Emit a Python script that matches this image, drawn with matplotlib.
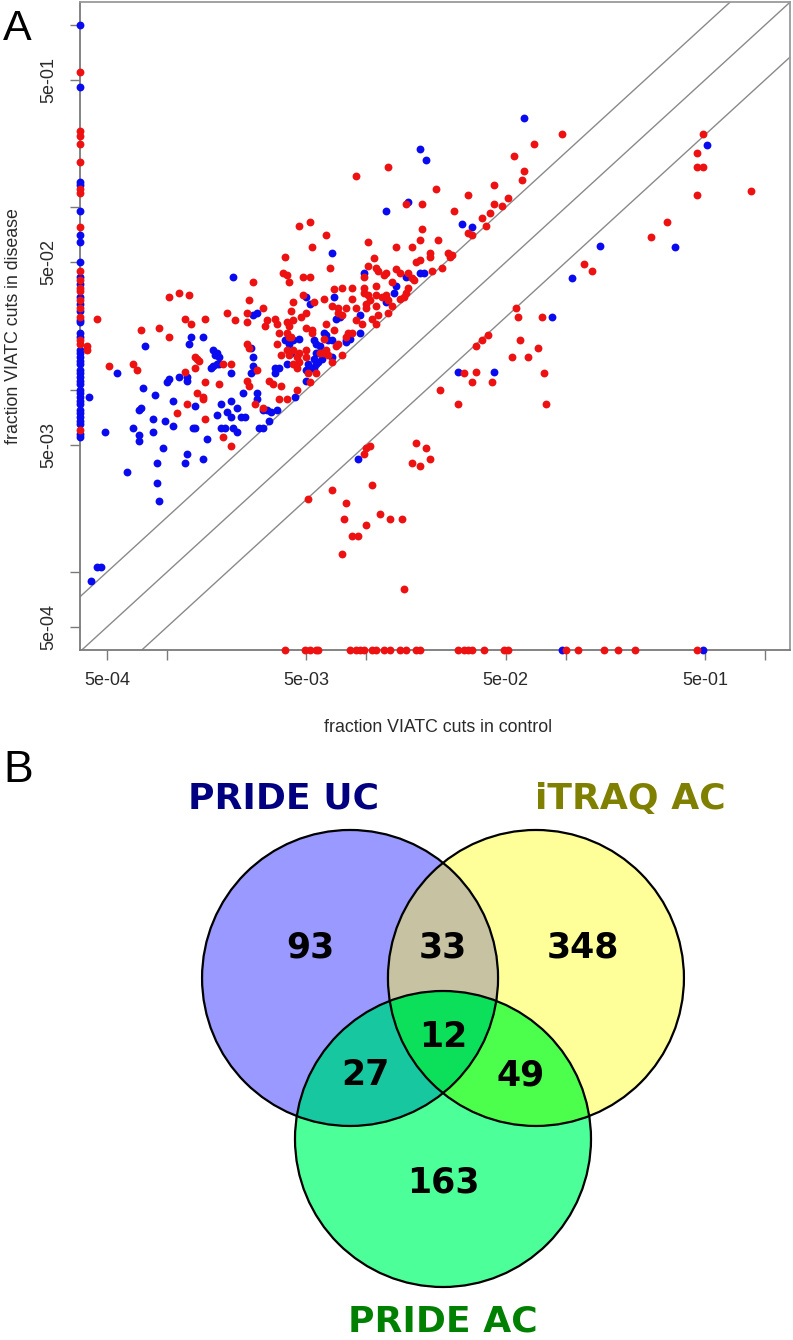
import numpy as np
import matplotlib
matplotlib.use("Agg")
import matplotlib.pyplot as plt
from matplotlib.patches import Circle, Polygon

# ------------------------------------------------------------------
# Panel A data: log10 of the fraction of VIATC cuts (control, disease)
# ------------------------------------------------------------------
blue_log_control = [
    -3.25, -3.39, -3.31, -3.38, -3.35, -3.33, -2.88, -2.89, -2.82, -3.11,
    -3.12, -3.06, -3.13, -3.14, -3.17, -3.14, -3.14, -3.07, -3.07, -3.01,
    -2.97, -2.97, -3.02, -3.05, -3.05, -3.04, -3.20, -2.91, -2.90, -2.82,
    -2.80, -2.87, -2.86, -2.86, -2.75, -2.73, -2.70, -2.68, -2.68, -2.73,
    -2.71, -2.67, -2.65, -2.65, -2.63, -2.61, -2.62, -3.00, -2.99, -2.94,
    -2.90, -2.90, -2.77, -2.76, -2.75, -2.74, -2.78, -2.77, -2.75, -2.74,
    -2.68, -2.57, -2.57, -2.56, -2.58, -2.55, -2.55, -2.52, -2.50, -2.48,
    -2.45, -2.49, -2.54, -2.52, -2.46, -2.36, -2.46, -2.44, -2.40, -2.39,
    -2.37, -2.40, -2.30, -2.29, -2.27, -2.25, -2.30, -2.26, -2.24, -2.22,
    -2.26, -2.25, -2.23, -2.10, -2.09, -2.20, -2.03, -2.34, -2.67, -2.57,
    -2.55, -2.41, -2.30, -2.28, -2.21, -2.17, -2.16, -2.15, -2.13, -2.08,
    -2.01, -2.03, -1.90, -1.90, -1.85, -1.80, -1.73, -1.71, -1.86, -1.79,
    -1.52, -1.47, -1.21, -1.73, -1.70, -2.04, -1.54, -1.36, -1.07, -0.97,
    -0.83, -0.45, -0.29, -2.38, -2.24, -2.17, -2.10, -2.29, -2.26, -2.25,
    -2.19, -2.17, -2.58]
blue_log_disease = [
    -1.91, -2.04, -2.23, -3.05, -2.97, -2.97, -1.71, -1.75, -1.71, -1.76,
    -1.99, -2.03, -2.10, -2.11, -2.21, -2.25, -2.28, -2.16, -2.23, -2.17,
    -2.20, -2.06, -2.32, -2.40, -2.51, -2.61, -2.45, -2.40, -2.35, -2.38,
    -2.27, -2.21, -2.21, -2.09, -2.14, -2.08, -2.12, -2.15, -2.06, -2.21,
    -2.21, -2.21, -2.23, -2.10, -2.15, -2.15, -2.02, -1.96, -1.94, -1.93,
    -1.93, -1.95, -1.78, -1.81, -1.80, -1.82, -1.88, -1.87, -1.86, -1.86,
    -1.91, -1.82, -1.87, -1.89, -1.91, -2.02, -2.05, -2.11, -2.11, -2.12,
    -2.11, -2.17, -2.21, -2.21, -1.91, -2.04, -1.88, -1.88, -1.86, -1.75,
    -1.73, -1.72, -1.89, -1.90, -1.88, -1.86, -1.95, -1.83, -1.85, -1.83,
    -1.73, -1.75, -1.76, -1.73, -1.72, -1.70, -1.69, -1.72, -1.38, -1.59,
    -1.58, -1.73, -1.49, -1.53, -1.69, -1.25, -1.49, -1.61, -1.60, -1.72,
    -1.36, -1.59, -1.02, -1.52, -1.43, -1.38, -1.36, -1.36, -1.47, -0.97,
    -1.09, -1.11, -0.51, -0.68, -0.74, -2.38, -1.90, -1.90, -1.60, -1.39,
    -1.21, -1.22, -0.66, -1.80, -1.80, -1.73, -1.74, -1.86, -1.88, -1.80,
    -1.73, -1.82, -1.77]

red_log_control = [
    -3.35, -3.29, -3.40, -3.40, -3.13, -2.99, -3.17, -3.15, -2.90, -2.95,
    -2.81, -2.85, -2.82, -2.82, -2.91, -2.86, -2.85, -2.84, -2.86, -2.72,
    -2.68, -2.81, -2.74, -2.60, -2.59, -2.55, -2.60, -2.59, -2.56, -2.72,
    -2.68, -2.49, -2.47, -2.52, -2.44, -2.40, -2.35, -2.43, -2.37, -2.35,
    -2.39, -2.37, -2.45, -2.43, -2.34, -2.30, -2.30, -2.28, -2.25, -2.23,
    -2.20, -2.19, -2.21, -2.17, -2.12, -2.14, -2.07, -2.27, -2.34, -2.29,
    -2.21, -2.15, -2.10, -2.35, -2.40, -2.39,
    -3.04, -2.99, -2.94, -2.89, -2.91, -2.88, -2.81, -2.70, -2.66, -2.60,
    -2.57, -2.60, -2.52, -2.50, -2.51, -2.45, -2.46, -2.41, -2.42, -2.40,
    -2.37, -2.38, -2.40, -2.39, -2.37, -2.44, -2.40, -2.38, -2.34, -2.28,
    -2.27, -2.32, -2.28, -2.32, -2.26, -2.33, -2.30, -2.27, -2.20, -2.18,
    -2.17, -2.14, -2.12, -2.07, -2.09, -2.05, -1.99, -1.99, -1.95, -2.01,
    -1.99, -1.95, -2.00, -1.95, -1.97, -1.95, -1.90, -1.85, -1.89, -1.90,
    -2.59, -2.39, -2.30, -2.21, -2.16, -2.12, -2.07, -2.20, -2.16, -2.10,
    -2.05, -2.00, -2.01, -1.95, -2.01, -1.96, -1.85, -1.83, -1.79, -1.77,
    -1.73, -1.72, -1.73, -1.68, -1.68, -1.64, -1.62, -1.59, -1.57, -1.58,
    -1.76, -1.79, -1.81, -1.89, -1.87, -1.98, -2.02, -2.05, -2.14, -1.89,
    -1.94, -1.80, -1.72, -1.65, -1.56, -1.49, -1.49, -1.47, -1.42, -1.40,
    -1.38, -1.36, -1.36, -1.02, -1.16, -1.26, -1.21, -1.22, -1.32, -1.29,
    -1.75, -1.94, -1.91, -1.67, -1.77, -1.87, -1.92, -1.83, -1.80,
    -2.00, -1.98, -2.01, -1.97, -2.29, -2.17, -2.10, -2.11, -2.00, -2.07,
    -2.04, -2.12, -1.93, -1.88, -1.82, -1.81, -1.77, -1.73, -1.75, -1.70,
    -1.68, -1.63, -1.54, -1.51, -1.47, -1.45, -1.37, -1.45, -1.42, -1.39,
    -1.27, -1.23, -1.19, -1.14, -1.11, -1.10, -1.25, -1.24, -1.12, -0.91,
    -0.87, -0.57, -0.49, -0.31, -0.34, -0.34, -0.31, -0.34, -0.07]
red_log_disease = [
    -1.61, -1.87, -1.76, -1.78, -1.67, -1.71, -1.86, -1.89, -2.08, -2.13,
    -2.16, -2.02, -2.04, -2.05, -1.90, -1.82, -1.83, -1.84, -1.88, -1.86,
    -1.86, -1.96, -1.97, -1.75, -1.77, -1.89, -1.95, -1.98, -2.08, -2.26,
    -2.31, -1.95, -1.97, -2.10, -2.05, -2.05, -2.00, -1.98, -1.86, -1.88,
    -1.81, -1.78, -1.75, -1.81, -1.80, -1.78, -1.82, -1.96, -1.91, -1.80,
    -1.78, -1.81, -1.72, -1.85, -1.81, -1.75, -1.69, -1.69, -1.85, -1.91,
    -1.80, -1.76, -1.71, -1.82, -1.78, -1.71,
    -1.66, -1.49, -1.47, -1.48, -1.61, -1.64, -1.61, -1.58, -1.62, -1.58,
    -1.41, -1.63, -1.55, -1.62, -1.65, -1.64, -1.61, -1.27, -1.36, -1.37,
    -1.52, -1.57, -1.63, -1.65, -1.62, -1.69, -1.69, -1.71, -1.10, -1.08,
    -1.22, -1.38, -1.38, -1.48, -1.52, -1.60, -1.66, -1.67, -1.15, -1.33,
    -1.54, -1.55, -1.59, -1.44, -1.69, -0.83, -1.19, -1.32, -1.33, -1.47,
    -1.48, -1.48, -1.55, -1.54, -1.61, -1.64, -1.36, -1.22, -0.78, -1.48,
    -1.51, -1.41, -1.58, -1.50, -1.45, -1.44, -1.50, -1.64, -1.67, -1.55,
    -1.55, -1.53, -1.44, -1.43, -1.38, -1.28, -1.34, -1.36, -1.36, -1.22,
    -1.18, -1.12, -1.29, -1.25, -1.27, -1.18, -1.33, -1.25, -1.26, -1.27,
    -1.40, -1.44, -1.49, -1.51, -1.54, -1.51, -1.64, -1.62, -1.58, -1.58,
    -1.59, -0.98, -0.98, -0.90, -1.02, -0.93, -1.14, -1.15, -1.06, -1.10,
    -1.03, -0.98, -0.88, -0.60, -0.65, -0.72, -0.80, -0.85, -0.99, -0.95,
    -1.30, -1.35, -1.37, -1.35, -1.39, -1.41, -1.49, -1.50, -1.47,
    -2.32, -2.31, -2.35, -2.52, -2.60, -2.55, -2.62, -2.71, -2.74, -2.80,
    -2.80, -2.90, -2.68, -2.71, -2.71, -3.09, -2.40, -2.42, -2.29, -2.32,
    -2.38, -2.00, -2.08, -1.91, -1.96, -1.90, -1.96, -1.76, -1.73, -1.70,
    -1.82, -1.73, -1.82, -1.77, -1.91, -2.08, -1.55, -1.60, -1.60, -1.31,
    -1.35, -1.16, -1.08, -0.60, -0.70, -0.78, -0.78, -0.93, -0.91]

# no cuts in control (drawn on the left axis): log10 fraction in disease
blue_ctrl0_log_disease = [
    0.00, -0.34, -0.86, -0.88, -1.02, -1.15, -1.19, -1.30, -1.38, -1.42,
    -1.49, -1.53, -1.57, -1.62, -1.63, -1.69, -1.71, -1.78, -1.80, -1.82,
    -1.84, -1.86, -1.89, -1.91, -1.93, -1.95, -1.97, -2.00, -2.02, -2.04,
    -2.06, -2.08, -2.11, -2.13, -2.15, -2.17, -2.19, -2.24, -2.26]
red_ctrl0_log_disease = [
    -0.26, -0.58, -0.61, -0.65, -0.75, -0.90, -0.92, -1.11, -1.35, -1.40,
    -1.44, -1.46, -1.51, -1.55, -1.60, -1.73, -1.75, -2.22]

# no cuts in disease (drawn on the bottom axis): log10 fraction in control
red_dis0_log_control = [
    -2.41, -2.31, -2.28, -2.25, -2.24, -2.08, -2.05, -2.03, -2.01, -1.97,
    -1.95, -1.91, -1.88, -1.83, -1.80, -1.75, -1.73, -1.54, -1.51, -1.49,
    -1.47, -1.41, -1.31, -1.29, -1.00, -0.94, -0.81, -0.74, -0.65, -0.34]
blue_dis0_log_control = [-1.02, -0.31]

tick_values = [5e-4, 1e-3, 5e-3, 1e-2, 5e-2, 1e-1, 5e-1, 1.0]
tick_labels = ["5e-04", "", "5e-03", "", "5e-02", "", "5e-01", ""]

# ------------------------------------------------------------------
# Panel B data: Venn diagram counts
# ------------------------------------------------------------------
set_names = ["PRIDE UC", "iTRAQ AC", "PRIDE AC"]
set_colors = ["#000080", "#808000", "#008000"]
n_uc_only, n_itraq_only, n_ac_only = 93, 348, 163
n_uc_itraq, n_uc_ac, n_itraq_ac = 33, 27, 49
n_all = 12

# ------------------------------------------------------------------
W, H = 793, 1340
fig = plt.figure(figsize=(W / 100, H / 100), dpi=100)

# ---------------- Panel A ----------------
ax = fig.add_axes([80 / W, (H - 650) / H, 710 / W, 648 / H])
ax.set_xscale("log")
ax.set_yscale("log")
xlo, xhi = 10 ** -3.436, 10 ** 0.125
ylo, yhi = 10 ** -3.427, 10 ** 0.126
ax.set_xlim(xlo, xhi)
ax.set_ylim(ylo, yhi)

def to_frac(v):
    return 10.0 ** np.asarray(v, dtype=float)

bx = np.concatenate([to_frac(blue_log_control), np.zeros(len(blue_ctrl0_log_disease)),
                     to_frac(blue_dis0_log_control)])
by = np.concatenate([to_frac(blue_log_disease), to_frac(blue_ctrl0_log_disease),
                     np.zeros(len(blue_dis0_log_control))])
rx = np.concatenate([to_frac(red_log_control), np.zeros(len(red_ctrl0_log_disease)),
                     to_frac(red_dis0_log_control)])
ry = np.concatenate([to_frac(red_log_disease), to_frac(red_ctrl0_log_disease),
                     np.zeros(len(red_dis0_log_control))])

def floor(v, lo):
    return np.where(v > 0, v, lo)

# reference lines y = x, y = 2x, y = x/2
line_x = np.array([1e-5, 10.0])
for k in (2.0, 1.0, 0.5):
    ax.plot(line_x, k * line_x, color="#8a8a8a", lw=1.0, zorder=1)

ax.scatter(floor(bx, xlo), floor(by, ylo), s=32, color="#0a0af0", lw=0,
           zorder=3, clip_on=False)
ax.scatter(floor(rx, xlo), floor(ry, ylo), s=32, color="#ee1111", lw=0,
           zorder=3, clip_on=False)

for side in ("left", "bottom"):
    ax.spines[side].set_color("#7a7a7a")
    ax.spines[side].set_linewidth(1.3)
for side in ("top", "right"):
    ax.spines[side].set_color("#9a9a9a")
    ax.spines[side].set_linewidth(1.3)

ax.set_xticks(tick_values)
ax.set_xticklabels(tick_labels)
ax.set_yticks(tick_values)
ax.set_yticklabels(tick_labels, rotation=90, va="center")
ax.minorticks_off()
ax.tick_params(axis="both", length=7.2, width=1.0, color="#7a7a7a",
               labelsize=13, labelcolor="#2a2a2a", pad=9)
for lab in ax.get_xticklabels() + ax.get_yticklabels():
    lab.set_family("Liberation Sans")

fig.text(438 / W, 1 - 727 / H, "fraction VIATC cuts in control",
         ha="center", va="center", fontsize=12.8, color="#2a2a2a",
         family="Liberation Sans")
fig.text(14 / W, 1 - 326 / H, "fraction VIATC cuts in disease",
         ha="center", va="center", rotation=90, fontsize=12.8,
         color="#2a2a2a", family="Liberation Sans")
fig.text(3 / W, 1 - 29 / H, "A", ha="left", va="center", fontsize=31,
         family="Liberation Sans")
fig.text(3 / W, 1 - 770 / H, "B", ha="left", va="center", fontsize=32,
         family="Liberation Sans")

# ---------------- Panel B (Venn) ----------------
vx = fig.add_axes([0, 0, 1, 600 / H])
vx.set_axis_off()
scale = 148.0
cx0, cy0 = 443.0, 1031.7
vx.set_xlim((0 - cx0) / scale, (W - cx0) / scale)
vx.set_ylim((cy0 - H) / scale, (cy0 - 740) / scale)

R = 1.0
centers = [(-0.628, 0.363), (0.628, 0.363), (0.0, -0.725)]
only_cols = ["#9999ff", "#ffff99", "#4dff99"]
pair_cols = {(0, 1): "#c6c2a2", (0, 2): "#17c7a0", (1, 2): "#4cff4c"}
all_col = "#0ce05a"

def intersection(idx):
    pts = []
    th = np.linspace(0, 2 * np.pi, 1440, endpoint=False)
    for i in idx:
        cx, cy = centers[i]
        px, py = cx + R * np.cos(th), cy + R * np.sin(th)
        m = np.ones_like(px, dtype=bool)
        for j in idx:
            if j == i:
                continue
            ox, oy = centers[j]
            m &= (px - ox) ** 2 + (py - oy) ** 2 <= R ** 2 + 1e-12
        pts.append(np.c_[px[m], py[m]])
    pts = np.vstack(pts)
    c = pts.mean(axis=0)
    ang = np.arctan2(pts[:, 1] - c[1], pts[:, 0] - c[0])
    return pts[np.argsort(ang)]

for (c, col) in zip(centers, only_cols):
    vx.add_patch(Circle(c, R, facecolor=col, edgecolor="none", zorder=1))
for idx, col in pair_cols.items():
    vx.add_patch(Polygon(intersection(idx), closed=True, facecolor=col,
                         edgecolor="none", zorder=2))
vx.add_patch(Polygon(intersection((0, 1, 2)), closed=True, facecolor=all_col,
                     edgecolor="none", zorder=3))
for c in centers:
    vx.add_patch(Circle(c, R, facecolor="none", edgecolor="black", lw=1.6,
                        zorder=4))

num_pos = {
    n_uc_only: (-0.899, 0.572), n_uc_itraq: (0.0, 0.572),
    n_itraq_only: (0.946, 0.572), n_all: (0.0, -0.036),
    n_uc_ac: (-0.527, -0.293), n_itraq_ac: (0.527, -0.293),
    n_ac_only: (0.0, -1.022),
}
for n, (x, y) in num_pos.items():
    vx.text(x, y, str(n), ha="center", va="center", fontsize=25,
            fontweight="bold", family="DejaVu Sans", zorder=5)

name_pos = [(-1.078, 1.575), (1.264, 1.575), (0.0, -1.955)]
for name, col, (x, y) in zip(set_names, set_colors, name_pos):
    vx.text(x, y, name, ha="center", va="center", fontsize=26,
            fontweight="bold", color=col, family="DejaVu Sans", zorder=5)

fig.savefig("out.png", dpi=100)
